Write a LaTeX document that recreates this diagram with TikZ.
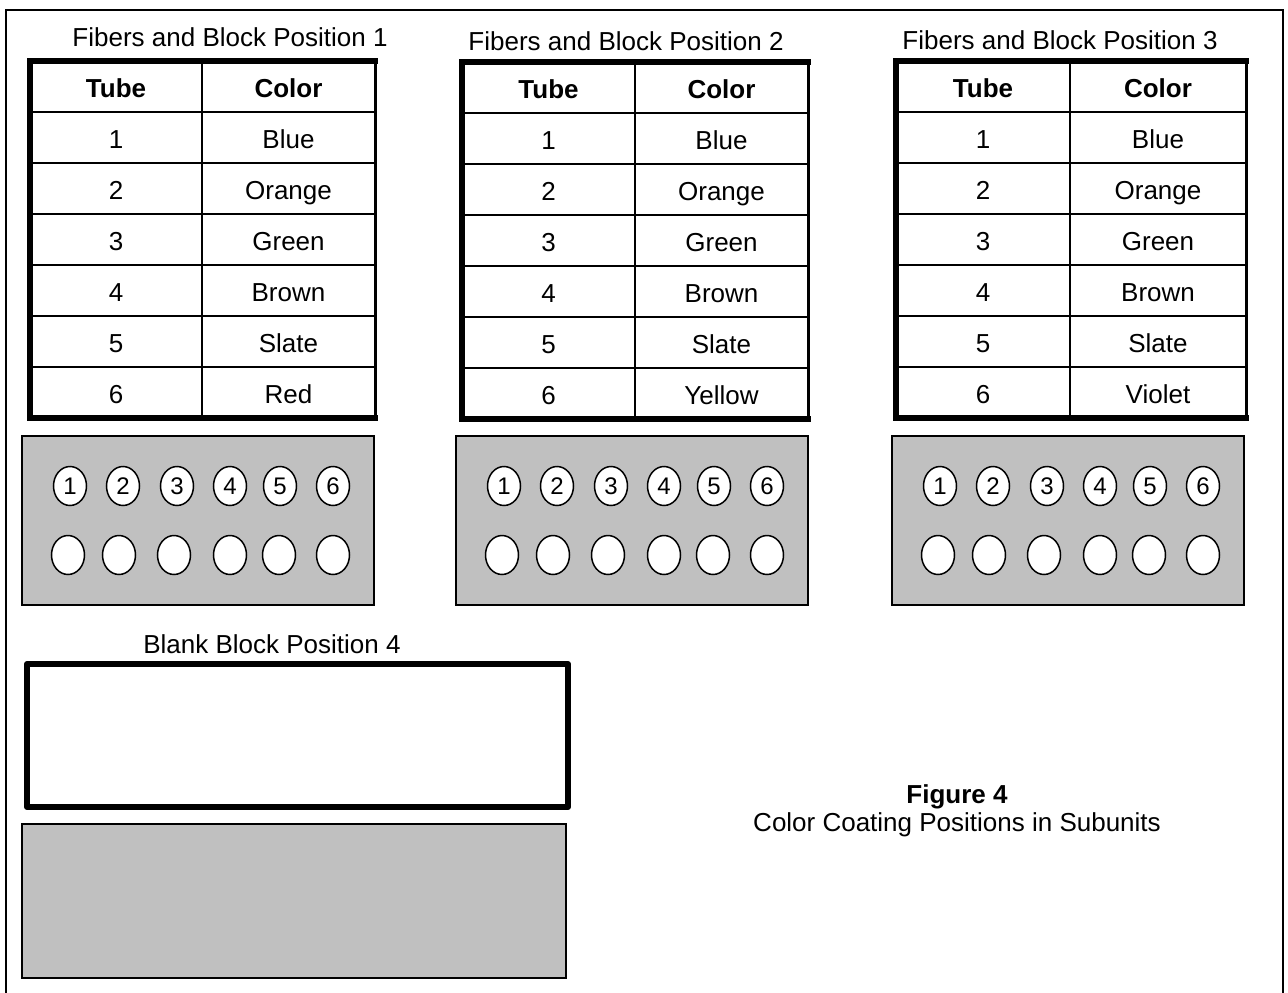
\documentclass[tikz,border=0pt]{standalone}
\usepackage{fontspec}
\setmainfont{Liberation Sans}
\usetikzlibrary{shapes.geometric}
\definecolor{blockgray}{HTML}{C0C0C0}

\begin{document}
\begin{tikzpicture}[x=1pt,y=-1pt,
  every node/.style={inner sep=0pt,font=\fontsize{26}{30}\selectfont},
  cell/.style={anchor=base},
  head/.style={anchor=base,font=\fontsize{26}{30}\selectfont\bfseries},
  grid line/.style={line width=2pt},
  edge line/.style={line width=6pt},
  block/.style={draw,line width=2pt,fill=blockgray},
  hole/.style={draw,fill=white,ellipse,line width=1.5pt,minimum width=33pt,minimum height=39pt,font=\fontsize{24}{26}\selectfont}]
\useasboundingbox (0,0) rectangle (1288,993);
% frame
\draw[line width=2.5pt] (6,993) -- (6,10) -- (1283,10) -- (1283,993);

% the three fiber units
\foreach \u/\xl/\xm/\xr/\yt/\tx/\ty/\xb/\sixth in {1/30/202/375/61/230/46/22/Red, 2/462/635/808/62/626/50/456/Yellow, 3/896/1070/1246/61/1060/49/892/Violet}{
  \node[cell] (title\u) at (\tx,\ty) {Fibers and Block Position \u};
  % table
  \draw[grid line] (\xl,\yt) rectangle (\xr,\yt+357);
  \draw[line width=3pt] (\xr,\yt) -- (\xr,\yt+357);
  \draw[grid line] (\xm,\yt) -- (\xm,\yt+357);
  \foreach \k in {1,...,6} \draw[grid line] (\xl,\yt+51*\k) -- (\xr,\yt+51*\k);
  \draw[edge line,line cap=rect] (\xr,\yt) -- (\xl,\yt) -- (\xl,\yt+357) -- (\xr,\yt+357);
  \node[head] (tube\u) at ({(\xl+\xm)/2},\yt+36) {Tube};
  \node[head] (color\u) at ({(\xm+\xr)/2},\yt+36) {Color};
  \foreach \k/\c in {1/Blue,2/Orange,3/Green,4/Brown,5/Slate,6/\sixth}{
    \node[cell] (num\u\k) at ({(\xl+\xm)/2},\yt+36+51*\k) {\k};
    \node[cell] (col\u\k) at ({(\xm+\xr)/2},\yt+36+51*\k) {\c};
  }
  % block
  \draw[block] (\xb,436) rectangle (\xb+352,605);
  \foreach \n/\a/\b in {1/48/46, 2/101/97, 3/155/152, 4/208/208, 5/258/257, 6/311/311}{
    \node[hole] (fiber\u\n) at (\xb+\a,486) {\n};
    \node[hole] (hole\u\n) at (\xb+\b,555) {};
  }
}

% blank block
\node[cell] (blanktitle) at (272,653) {Blank Block Position 4};
\draw[edge line,line join=round] (27,664) rectangle (568,807);
\draw[block] (22,824) rectangle (566,978);

% caption
\node[head] (figno) at (957,803) {Figure 4};
\node[cell] (figcap) at (957,831) {Color Coating Positions in Subunits};
\end{tikzpicture}
\end{document}
